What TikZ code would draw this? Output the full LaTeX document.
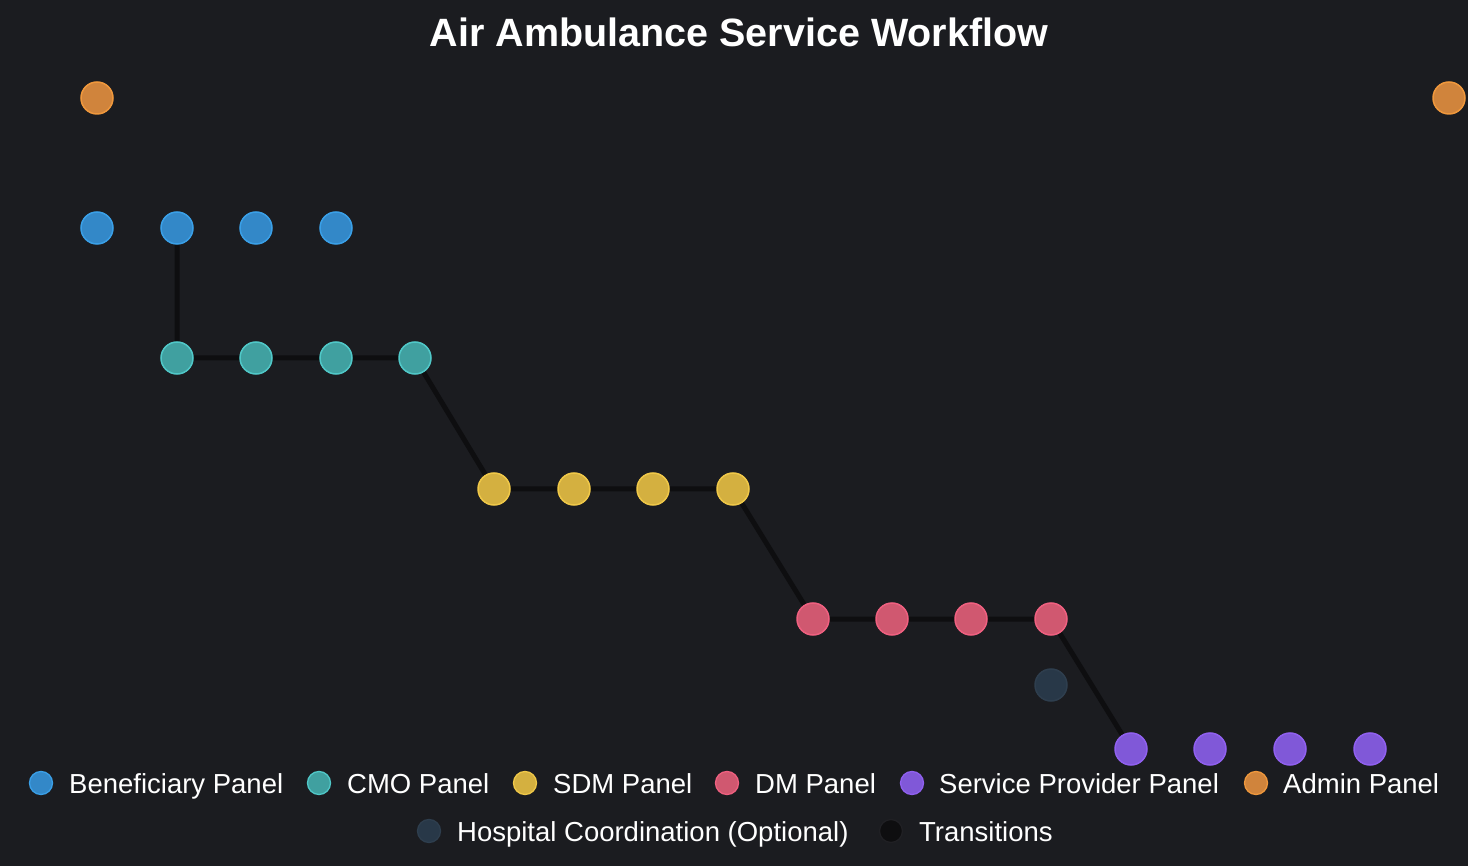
\documentclass[tikz,border=0pt]{standalone}
\usepackage{fontspec}
\setmainfont{Liberation Sans}
\pgfdeclarelayer{bgl}
\pgfsetlayers{bgl,main}
\begin{document}
\begin{tikzpicture}[x=1pt,y=-1pt,
  pt/.style={circle,minimum size=32pt,inner sep=0pt,line width=1.5pt},
  lg/.style={circle,minimum size=23pt,inner sep=0pt,line width=1.3pt},
  ben/.style={fill=cBenF,draw=cBenD},
  cmo/.style={fill=cCmoF,draw=cCmoD},
  sdm/.style={fill=cSdmF,draw=cSdmD},
  dm/.style={fill=cDmF,draw=cDmD},
  sp/.style={fill=cSpF,draw=cSpD},
  adm/.style={fill=cAdmF,draw=cAdmD},
  hos/.style={fill=cHosF,draw=cHosD},
  trn/.style={fill=cTrn,draw=cTrnD},
  edge/.style={draw=cTrn,line width=5pt},
  lt/.style={anchor=base west,text=white,inner sep=0pt,font=\fontsize{27.5}{30}\selectfont}]
\definecolor{bg}{HTML}{1B1C20}
\definecolor{cBenF}{HTML}{3388C8}\definecolor{cBenD}{HTML}{3AA0E8}
\definecolor{cCmoF}{HTML}{40A0A0}\definecolor{cCmoD}{HTML}{50C8C8}
\definecolor{cSdmF}{HTML}{D4B040}\definecolor{cSdmD}{HTML}{F0C848}
\definecolor{cDmF}{HTML}{D05870}\definecolor{cDmD}{HTML}{F06080}
\definecolor{cSpF}{HTML}{8058D8}\definecolor{cSpD}{HTML}{9060F0}
\definecolor{cAdmF}{HTML}{D0843C}\definecolor{cAdmD}{HTML}{F0983C}
\definecolor{cHosF}{HTML}{283848}\definecolor{cHosD}{HTML}{2E3E4E}
\definecolor{cTrn}{HTML}{0E0E10}\definecolor{cTrnD}{HTML}{202024}
\begin{pgfonlayer}{bgl}
\fill[bg] (0,0) rectangle (1468,866);
\end{pgfonlayer}
\useasboundingbox (0,0) rectangle (1468,866);
\node[text=white,anchor=base,inner sep=0pt,font=\bfseries\fontsize{39.5}{42}\selectfont] (title) at (739,47) {Air Ambulance Service Workflow};
% nodes
\node[pt,adm] (a1) at (97,98) {};
\node[pt,adm] (a2) at (1449,98) {};
\node[pt,ben] (b1) at (97,228) {};
\node[pt,ben] (b2) at (177,228) {};
\node[pt,ben] (b3) at (256,228) {};
\node[pt,ben] (b4) at (336,228) {};
\node[pt,cmo] (c1) at (177,358) {};
\node[pt,cmo] (c2) at (256,358) {};
\node[pt,cmo] (c3) at (336,358) {};
\node[pt,cmo] (c4) at (415,358) {};
\node[pt,sdm] (s1) at (494,489) {};
\node[pt,sdm] (s2) at (574,489) {};
\node[pt,sdm] (s3) at (653,489) {};
\node[pt,sdm] (s4) at (733,489) {};
\node[pt,dm] (d1) at (813,619) {};
\node[pt,dm] (d2) at (892,619) {};
\node[pt,dm] (d3) at (971,619) {};
\node[pt,dm] (d4) at (1051,619) {};
\node[pt,hos] (h1) at (1051,685) {};
\node[pt,sp] (p1) at (1131,749) {};
\node[pt,sp] (p2) at (1210,749) {};
\node[pt,sp] (p3) at (1290,749) {};
\node[pt,sp] (p4) at (1370,749) {};
\begin{pgfonlayer}{bgl}
\draw[edge] (b2.center) -- (c1.center) -- (c2.center) -- (c3.center) -- (c4.center)
  -- (s1.center) -- (s2.center) -- (s3.center) -- (s4.center)
  -- (d1.center) -- (d2.center) -- (d3.center) -- (d4.center) -- (p1.center);
\end{pgfonlayer}
% legend
\node[lg,ben] (l1) at (41,783) {};  \node[lt] (t1) at (69,793) {Beneficiary Panel};
\node[lg,cmo] (l2) at (319,783) {}; \node[lt] (t2) at (347,793) {CMO Panel};
\node[lg,sdm] (l3) at (525,783) {}; \node[lt] (t3) at (553,793) {SDM Panel};
\node[lg,dm] (l4) at (727,783) {};  \node[lt] (t4) at (755,793) {DM Panel};
\node[lg,sp] (l5) at (912,783) {};  \node[lt] (t5) at (939,793) {Service Provider Panel};
\node[lg,adm] (l6) at (1256,783) {}; \node[lt] (t6) at (1283,793) {Admin Panel};
\node[lg,hos] (l7) at (429,831) {}; \node[lt] (t7) at (457,841) {Hospital Coordination (Optional)};
\node[lg,trn] (l8) at (891,831) {}; \node[lt] (t8) at (919,841) {Transitions};
\end{tikzpicture}
\end{document}
